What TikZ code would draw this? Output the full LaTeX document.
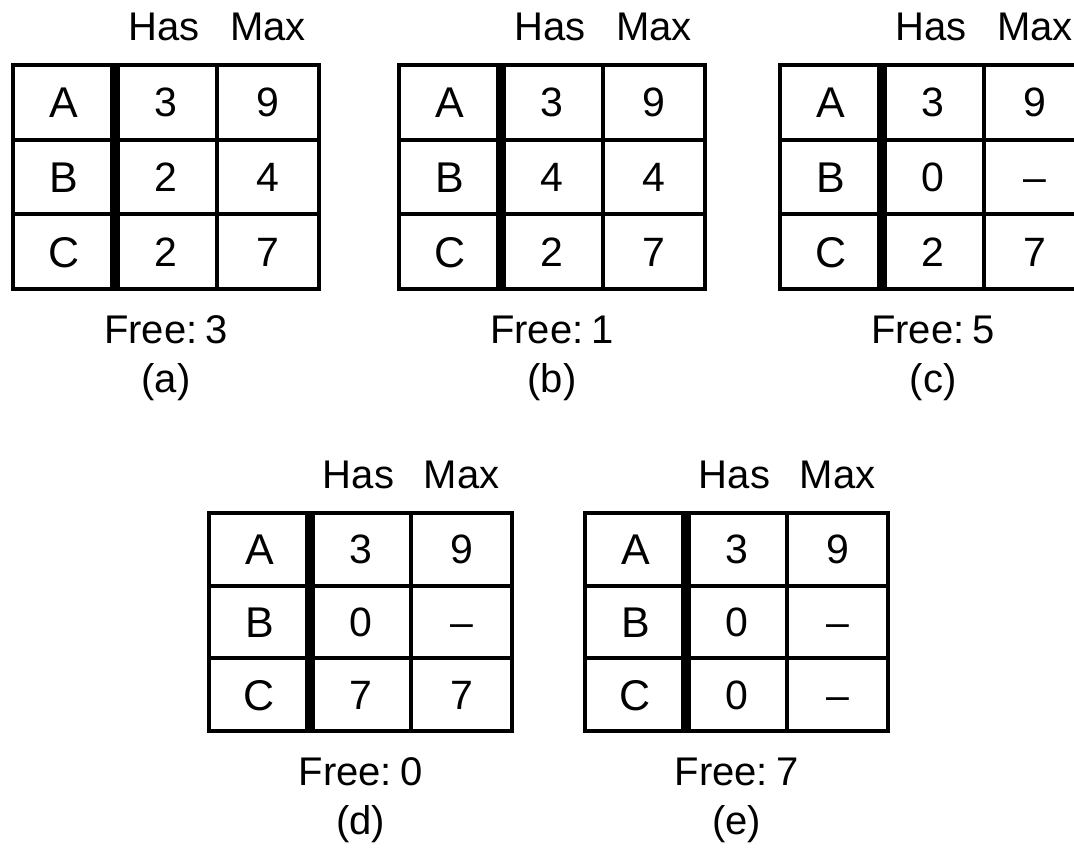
\documentclass[tikz,border=0pt]{standalone}
\usepackage{fontspec}
\setmainfont{Liberation Sans}
\begin{document}
\begin{tikzpicture}[x=0.5pt,y=-0.5pt]
  \tikzstyle{grille}=[line width=2pt]
  \tikzstyle{barre}=[line width=5pt]
  \tikzstyle{titre}=[font=\fontsize{20}{24}\selectfont, inner sep=0pt, anchor=base]
  \tikzstyle{lettre}=[font=\fontsize{21.5}{24}\selectfont, inner sep=0pt,
    text height=15.5pt, text depth=0pt]
  \tikzstyle{chiffre}=[font=\fontsize{20.5}{24}\selectfont, inner sep=0pt,
    text height=14.5pt, text depth=0pt]
  \useasboundingbox (0,0) rectangle (1074,851);
  \foreach \n/\x/\y/\w/\h/\ha/\ma/\hb/\mb/\hc/\mc/\f in {
      a/13/65/102/74.7/3/9/2/4/2/7/3,
      b/399/65/102/74.7/3/9/4/4/2/7/1,
      c/780/65/102/74.7/3/9/0/--/2/7/5,
      d/209/513/101/72.7/3/9/0/--/7/7/0,
      e/585/513/101/72.7/3/9/0/--/0/--/7} {
    % cadre et lignes
    \draw[grille] (\x,\y) rectangle ++(3*\w,3*\h);
    \draw[grille] (\x,\y+\h) -- ++(3*\w,0);
    \draw[grille] (\x,\y+2*\h) -- ++(3*\w,0);
    \draw[grille] (\x+2*\w,\y) -- ++(0,3*\h);
    \draw[barre] (\x+\w,\y) -- ++(0,3*\h);
    % en-tetes
    \node[titre] (has-\n) at (\x+1.5*\w-2,\y-25) {Has};
    \node[titre] (max-\n) at (\x+2.5*\w,\y-25) {Max};
    % cases
    \foreach \r/\hv/\mv [count=\i] in {A/\ha/\ma, B/\hb/\mb, C/\hc/\mc} {
      \node[lettre] (\n-\r) at (\x+0.5*\w,\y+\i*\h-0.5*\h) {\r};
      \node[chiffre] (\n-\r-has) at (\x+1.5*\w,\y+\i*\h-0.5*\h) {\hv};
      \node[chiffre] (\n-\r-max) at (\x+2.5*\w,\y+\i*\h-0.5*\h) {\mv};
    }
    \node[titre] (free-\n) at (\x+1.5*\w,\y+3*\h+54) {Free:\hspace{0.2em}\f};
    \node[titre] (label-\n) at (\x+1.5*\w,\y+3*\h+103) {(\n)};
  }
\end{tikzpicture}
\end{document}
